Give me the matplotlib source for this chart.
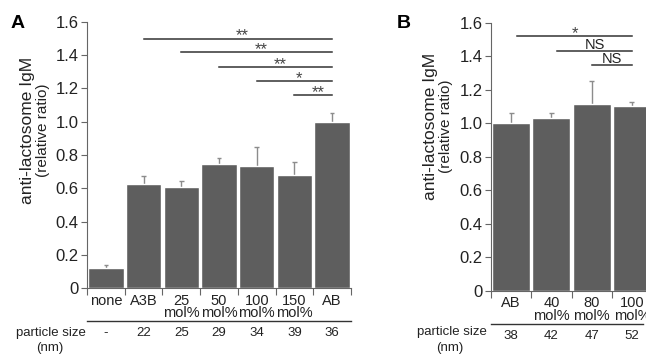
import matplotlib
matplotlib.use('Agg')
import matplotlib.pyplot as plt
import numpy as np

plt.rcParams['font.family'] = ['Liberation Sans', 'DejaVu Sans']

# panel A data
labels_a = ['none', 'A3B', '25\nmol%', '50\nmol%', '100\nmol%', '150\nmol%', 'AB']
values_a = [0.12, 0.625, 0.605, 0.745, 0.735, 0.68, 1.0]
errors_a = [0.02, 0.05, 0.04, 0.035, 0.115, 0.075, 0.055]
sizes_a = ['-', '22', '25', '29', '34', '39', '36']
# (start index, end index, height, label)
sig_a = [(1, 6, 1.50, '**'), (2, 6, 1.42, '**'), (3, 6, 1.33, '**'),
         (4, 6, 1.245, '*'), (5, 6, 1.16, '**')]

# panel B data
labels_b = ['AB', '40\nmol%', '80\nmol%', '100\nmol%']
values_b = [1.0, 1.03, 1.115, 1.105]
errors_b = [0.065, 0.035, 0.14, 0.02]
sizes_b = ['38', '42', '47', '52']
sig_b = [(0.15, 3, 1.52, '*'), (1.15, 3, 1.435, 'NS'), (2.0, 3, 1.35, 'NS')]

BAR = '#5e5e5e'
ERR = '#8c8c8c'
DARK = '#222222'

W, H = 646, 357
fig = plt.figure(figsize=(W / 100, H / 100), dpi=100)


def box(x0, y0, x1, y1):
    return [x0 / W, 1 - y1 / H, (x1 - x0) / W, (y1 - y0) / H]


def draw_panel(ax, labels, values, errors, sizes, sigs, line_end, star_shift):
    n = len(values)
    x = np.arange(n)
    vals = np.array(values)
    tops = vals + np.array(errors)
    # upper error bars only (drawn behind the bars)
    ax.vlines(x, vals - 0.02, tops, color=ERR, lw=1.0, zorder=1)
    ax.hlines(tops, x - 0.06, x + 0.06, color=ERR, lw=1.0, zorder=1)
    ax.bar(x, vals, width=0.94, color=BAR, edgecolor='white', linewidth=1.0,
           zorder=2)
    ax.set_xlim(-0.5, n - 0.5)
    ax.set_ylim(0, 1.6)
    yt = np.arange(0, 1.61, 0.2)
    ax.set_yticks(yt)
    ax.set_yticklabels(['0'] + ['%.1f' % v for v in yt[1:]], fontsize=12, color=DARK)
    ax.set_xticks(x)
    ax.set_xticklabels(labels, fontsize=10.5, color=DARK, linespacing=0.85)
    ax.set_xticks(np.arange(n + 1) - 0.5, minor=True)
    ax.tick_params(axis='x', which='major', length=0, pad=4)
    ax.tick_params(axis='x', which='minor', length=5, width=0.8, color='#666666')
    ax.tick_params(axis='y', length=4, width=0.8, color='#666666', pad=2)
    for s in ['top', 'right']:
        ax.spines[s].set_visible(False)
    for s in ['left', 'bottom']:
        ax.spines[s].set_color('#666666')
        ax.spines[s].set_linewidth(0.8)

    # significance brackets
    for x0, x1, y, lab in sigs:
        ax.plot([x0, x1], [y, y], color='#333333', lw=1.1, clip_on=False)
        if lab == 'NS':
            ax.text((x0 + x1) / 2, y + 0.008, lab, ha='center', va='baseline',
                    fontsize=10.5, color=DARK)
        else:
            ax.text((x0 + x1) / 2 + star_shift, y - 0.012, lab, ha='center',
                    va='baseline', fontsize=12, color='#444444')

    # particle size row
    tr = ax.get_xaxis_transform()
    ax.plot([-0.5, line_end], [-0.125, -0.125], color='#333333', lw=1.0,
            transform=tr, clip_on=False)
    for i, s in enumerate(sizes):
        ax.text(i, -0.168, s, ha='center', va='center', fontsize=9.5,
                color=DARK, transform=tr)


axA = fig.add_axes(box(87, 22, 351, 288))
draw_panel(axA, labels_a, values_a, errors_a, sizes_a, sig_a, 6.5, 0.12)
axB = fig.add_axes(box(491, 23, 652, 290.7))
draw_panel(axB, labels_b, values_b, errors_b, sizes_b, sig_b, 3.28, 0.0)


def ftext(x, y, s, **kw):
    fig.text(x / W, 1 - y / H, s, **kw)


# panel letters
ftext(18, 24, 'A', fontsize=14, fontweight='bold', ha='center', va='center')
ftext(404, 24, 'B', fontsize=14, fontweight='bold', ha='center', va='center')

# y labels
for xl, xr, yc in [(28, 43, 130), (431, 446, 126)]:
    ftext(xl, yc, 'anti-lactosome IgM', rotation=90, fontsize=12.5,
          ha='center', va='center', color=DARK)
    ftext(xr, yc, '(relative ratio)', rotation=90, fontsize=11,
          ha='center', va='center', color=DARK)

# particle size captions
ftext(86, 333, 'particle size', fontsize=9.5, ha='right', va='center', color=DARK)
ftext(50, 348, '(nm)', fontsize=9.5, ha='center', va='center', color=DARK)
ftext(487, 332, 'particle size', fontsize=9.5, ha='right', va='center', color=DARK)
ftext(450, 348, '(nm)', fontsize=9.5, ha='center', va='center', color=DARK)

fig.savefig('out.png', dpi=100)
